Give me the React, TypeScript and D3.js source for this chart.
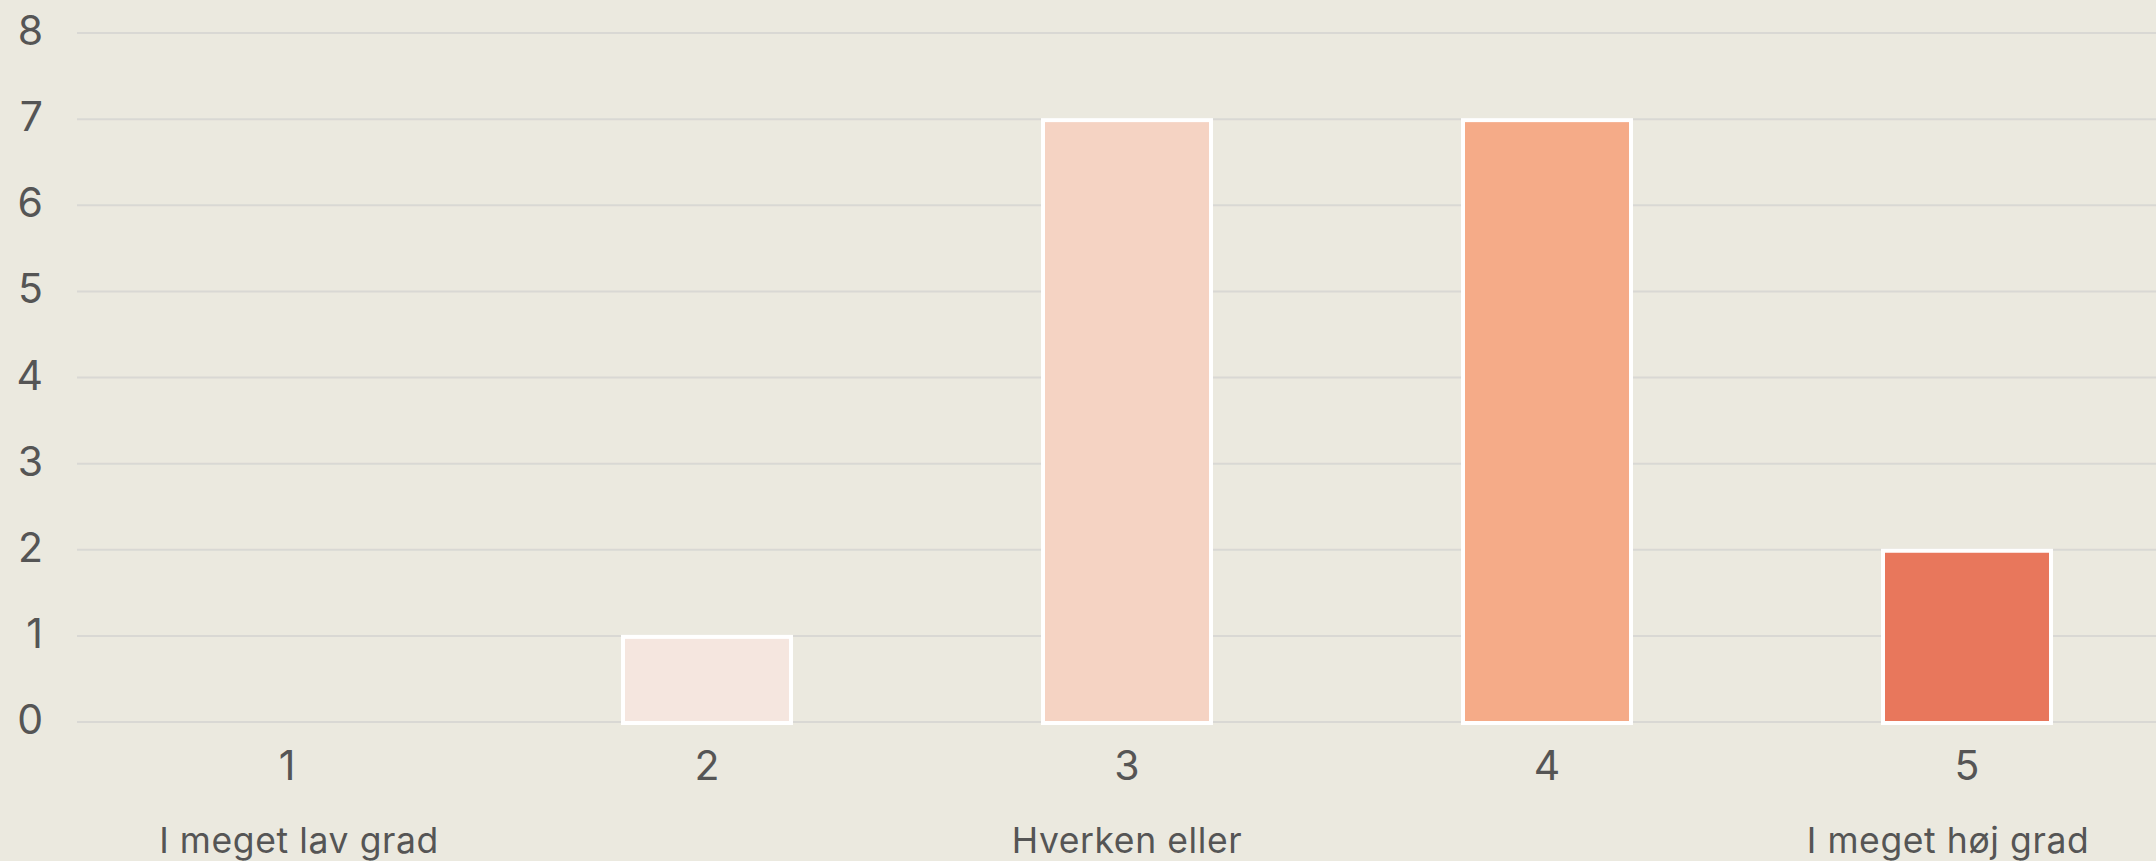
import { useEffect, useRef } from "react";
import * as d3 from "d3";

// answer options and counts
const categories = ["1", "2", "3", "4", "5"];
const counts = [0, 1, 7, 7, 2];
const barColors = ["#f7eeea", "#f5e6df", "#f5d3c3", "#f5ab88", "#e8775c"];
const subLabels = ["I meget lav grad", "", "Hverken eller", "", "I meget høj grad"];
const yTicks = [0, 1, 2, 3, 4, 5, 6, 7, 8];

const W = 2156;
const H = 861;

const App = () => {
    const svgRef = useRef<SVGSVGElement>(null);

    useEffect(() => {
        document.body.style.margin = "0";
        if (!svgRef.current) return;
        const svg = d3.select(svgRef.current);
        svg.selectAll("*").remove();

        const margin = { top: 33, left: 77, bottom: 139 };
        const plotRight = margin.left + 2100; // plot runs past the right edge

        const x = d3.scaleBand<string>()
            .domain(categories)
            .range([margin.left, plotRight])
            .paddingInner(0.6)
            .paddingOuter(0.3);

        const y = d3.scaleLinear()
            .domain([0, 8])
            .range([H - margin.bottom, margin.top]);

        svg.append("rect")
            .attr("width", W)
            .attr("height", H)
            .attr("fill", "#ebe9df");

        // Grid lines + y labels
        yTicks.forEach((t) => {
            svg.append("line")
                .attr("x1", margin.left)
                .attr("x2", W)
                .attr("y1", y(t))
                .attr("y2", y(t))
                .attr("stroke", "#d9d8d4")
                .attr("stroke-width", 2);

            svg.append("text")
                .attr("x", 43)
                .attr("y", y(t) + 12)
                .attr("text-anchor", "end")
                .attr("fill", "#555")
                .attr("font-family", "Inter, 'Noto Sans', sans-serif")
                .attr("font-size", 41)
                .text(t);
        });

        // Bars (zero values draw nothing)
        counts.forEach((v, i) => {
            if (v <= 0) return;
            svg.append("rect")
                .attr("x", x(categories[i])!)
                .attr("y", y(v) + 1)
                .attr("width", x.bandwidth())
                .attr("height", y(0) - y(v))
                .attr("fill", barColors[i])
                .attr("stroke", "#fff")
                .attr("stroke-width", 4);
        });

        // Category numbers + scale captions
        categories.forEach((c, i) => {
            const cx = x(c)! + x.bandwidth() / 2;
            svg.append("text")
                .attr("x", cx)
                .attr("y", y(0) + 58)
                .attr("text-anchor", "middle")
                .attr("fill", "#555")
                .attr("font-family", "Inter, 'Noto Sans', sans-serif")
                .attr("font-size", 41)
                .text(c);

            if (subLabels[i]) {
                const shift = i === 0 ? 12 : i === categories.length - 1 ? -19 : 0;
                svg.append("text")
                    .attr("x", cx + shift)
                    .attr("y", y(0) + 131)
                    .attr("text-anchor", "middle")
                    .attr("fill", "#555")
                    .attr("font-family", "Inter, 'Noto Sans', sans-serif")
                    .attr("font-size", 35.5)
                    .attr("letter-spacing", 0.6)
                    .text(subLabels[i]);
            }
        });
    }, []);

    return <svg ref={svgRef} width={W} height={H} style={{ display: "block" }} />;
};

export default App;
